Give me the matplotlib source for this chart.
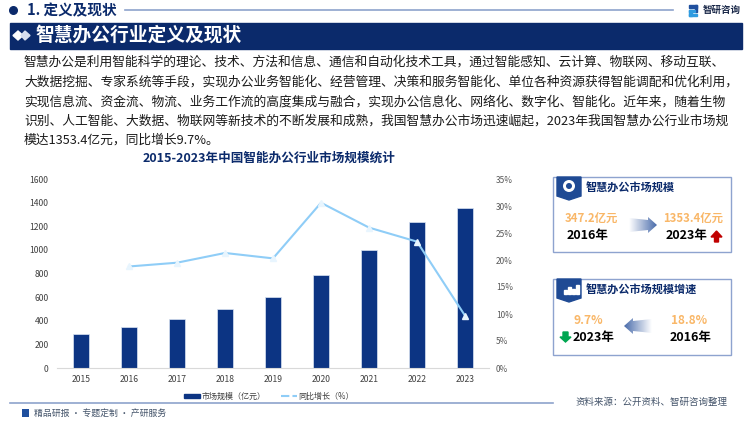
import numpy as np
import matplotlib
matplotlib.use("Agg")
import matplotlib.pyplot as plt
from matplotlib.lines import Line2D
from matplotlib.patches import Patch, Polygon, Rectangle, Circle

plt.rcParams['font.family'] = ['Noto Sans CJK SC', 'DejaVu Sans']

years = ["2015", "2016", "2017", "2018", "2019", "2020", "2021", "2022", "2023"]
market_size = [292, 347, 415, 500, 605, 790, 1000, 1235, 1353.4]
growth = [np.nan, 18.8, 19.5, 21.3, 20.3, 30.6, 26.0, 23.4, 9.7]
left_ticks = [0, 200, 400, 600, 800, 1000, 1200, 1400, 1600]
right_ticks = [0, 5, 10, 15, 20, 25, 30, 35]

body_lines = [
    "智慧办公是利用智能科学的理论、技术、方法和信息、通信和自动化技术工具，通过智能感知、云计算、物联网、移动互联、",
    "大数据挖掘、专家系统等手段，实现办公业务智能化、经营管理、决策和服务智能化、单位各种资源获得智能调配和优化利用，",
    "实现信息流、资金流、物流、业务工作流的高度集成与融合，实现办公信息化、网络化、数字化、智能化。近年来，随着生物",
    "识别、人工智能、大数据、物联网等新技术的不断发展和成熟，我国智慧办公市场迅速崛起，2023年我国智慧办公行业市场规",
    "模达1353.4亿元，同比增长9.7%。",
]
body_y = [62, 82, 102, 121, 140]

NAVY = "#0b2a6b"
BAR = "#0c3483"
LINE = "#8fcdf7"
FRAME = "#8ea3cf"
ORANGE = "#f9b768"

fig = plt.figure(figsize=(7.5, 4.21), dpi=100)

# page overlay in pixel coordinates
bg = fig.add_axes([0, 0, 1, 1])
bg.set_xlim(0, 750)
bg.set_ylim(421, 0)
bg.axis("off")

# header
bg.add_patch(Circle((13.5, 10.5), 3.8, color=NAVY))
bg.text(27, 10.5, "1. 定义及现状", fontsize=10.5, color=NAVY, weight="bold", va="center")
bg.plot([125, 673], [10, 10], color="#8ea3cc", lw=1.2)
bg.add_patch(Rectangle((10, 23), 732, 26, color=NAVY))
bg.add_patch(Polygon([(13, 35.5), (18, 31), (23, 35.5), (18, 40)], color="white"))
bg.add_patch(Polygon([(21, 35.5), (25, 31), (30, 35.5), (25, 40)], color="#d8dfee"))
bg.text(35, 35.5, "智慧办公行业定义及现状", fontsize=13.5, color="white", weight="bold", va="center")

# logo
bg.add_patch(Rectangle((689, 5), 8, 2.5, color="#1f4f9e"))
bg.add_patch(Rectangle((694.5, 5), 2.5, 7, color="#1f4f9e"))
bg.add_patch(Rectangle((689, 10), 6, 2.2, color="#2f9be0"))
bg.add_patch(Rectangle((689, 10), 2.5, 6, color="#2f9be0"))
bg.add_patch(Rectangle((689, 13.5), 8, 2.5, color="#2f9be0"))
bg.text(703, 10, "智研咨询", fontsize=6.8, color="#1c2a4a", weight="bold", va="center")

# body text
for y, line in zip(body_y, body_lines):
    bg.text(24, y, line, fontsize=9.2, color="#1a1a1a", va="center")

bg.text(269, 158, "2015-2023年中国智能办公行业市场规模统计", fontsize=9.05, color=NAVY,
        weight="bold", ha="center", va="center")


def grad_arrow(x0, x1, yc, flip=False):
    # arrow with a fade towards the tail
    xs = [x0, x1 - 9, x1 - 9, x1, x1 - 9, x1 - 9, x0]
    ys = [yc - 7, yc - 5, yc - 8, yc, yc + 8, yc + 5, yc + 7]
    grad = np.linspace(0, 1, 64).reshape(1, -1)
    if flip:
        xs = [x0 + x1 - v for v in xs]
        grad = grad[:, ::-1]
    cmap = matplotlib.colors.LinearSegmentedColormap.from_list("fade", ["#ffffff", "#4a6cab"])
    im = bg.imshow(grad, extent=(x0, x1, yc + 9, yc - 9), cmap=cmap, aspect="auto", zorder=3)
    im.set_clip_path(Polygon(list(zip(xs, ys)), transform=bg.transData))
    bg.set_xlim(0, 750)
    bg.set_ylim(421, 0)


def panel(y0, y1, title):
    bg.add_patch(Rectangle((553, y0), 178, y1 - y0, fc="white", ec=FRAME, lw=1.0))
    bg.add_patch(Polygon([(557, y0), (581, y0), (581, y0 + 19), (569, y0 + 23), (557, y0 + 19)],
                         color="#1f4a94", zorder=3))
    bg.text(586, y0 + 11, title, fontsize=8.0, color=NAVY, weight="bold", va="center")


# scale panel
panel(177, 252, "智慧办公市场规模")
bg.add_patch(Circle((569, 186), 6, fc="white", ec="none", zorder=4))
bg.add_patch(Circle((569, 186), 3, fc="#1f4a94", ec="none", zorder=5))
bg.text(591, 219, "347.2亿元", fontsize=8.2, color=ORANGE, weight="bold", ha="center", va="center")
bg.text(588, 236, "2016年", fontsize=9.0, color="black", weight="bold", ha="center", va="center")
bg.text(693, 219, "1353.4亿元", fontsize=8.2, color=ORANGE, weight="bold", ha="center", va="center")
bg.text(687, 236, "2023年", fontsize=9.0, color="black", weight="bold", ha="center", va="center")
grad_arrow(629, 657, 225)
bg.add_patch(Polygon([(714.5, 242), (714.5, 237), (711, 237), (716.5, 231), (722, 237), (718.5, 237), (718.5, 242)],
                     color="#c00000"))

# growth panel
panel(279, 355, "智慧办公市场规模增速")
for x, h in [(564, 4), (568, 7), (572, 5), (576, 9)]:
    bg.add_patch(Rectangle((x, 294 - h), 2.5, h, color="white", zorder=4))
bg.text(588, 321, "9.7%", fontsize=8.6, color=ORANGE, weight="bold", ha="center", va="center")
bg.text(593.5, 338, "2023年", fontsize=9.0, color="black", weight="bold", ha="center", va="center")
bg.text(689, 321, "18.8%", fontsize=8.6, color=ORANGE, weight="bold", ha="center", va="center")
bg.text(691, 338, "2016年", fontsize=9.0, color="black", weight="bold", ha="center", va="center")
grad_arrow(624, 652, 326, flip=True)
bg.add_patch(Polygon([(563, 332), (568, 332), (568, 337), (571, 337), (565.5, 342), (560, 337), (563, 337)],
                     color="#00a651"))

# footer
bg.plot([10, 553], [403, 403], color="#8ea3cc", lw=1.2)
bg.add_patch(Rectangle((22, 409), 7, 8, fc="#1f4f9e", ec="none"))
bg.text(34, 413.5, "精品研报 · 专题定制 · 产研服务", fontsize=6.4, color="#44546a", va="center")
bg.text(575, 402, "资料来源：公开资料、智研咨询整理", fontsize=6.8, color="#44546a", va="center")

# chart
ax = fig.add_axes([57 / 750, 1 - 368 / 421, 432 / 750, 189 / 421])
x = np.arange(len(years))
ax.bar(x, market_size, width=0.33, color=BAR, edgecolor="#dbe4f3", linewidth=0.5)
ax.set_xlim(-0.5, 8.5)
ax.set_ylim(0, 1600)
ax.set_xticks(x, years)
ax.set_yticks(left_ticks)
ax.tick_params(length=0, labelsize=6.2, labelcolor="#404040", pad=5)
ax.patch.set_alpha(0)
for s in ["top", "right", "left"]:
    ax.spines[s].set_visible(False)
ax.spines["bottom"].set_color("#d9d9d9")
ax.spines["bottom"].set_linewidth(0.8)
ax.tick_params(axis="y", pad=6)

ax2 = ax.twinx()
ax2.plot(x, growth, color=LINE, lw=1.5, marker="^", ms=4.5, mfc="#e8f5fe", mec="#e8f5fe")
ax2.set_ylim(0, 35)
ax2.set_yticks(right_ticks, [f"{v}%" for v in right_ticks])
ax2.tick_params(length=0, labelsize=6.0, labelcolor="#595959", pad=5)
for s in ax2.spines.values():
    s.set_visible(False)

handles = [Patch(color=BAR), Line2D([], [], color=LINE, lw=1.5, ls=(0, (4, 1.5)))]
fig.legend(handles, ["市场规模（亿元）", "同比增长（%）"], loc="center", bbox_to_anchor=(269 / 750, 1 - 396.5 / 421),
           ncol=2, frameon=False, fontsize=5.8, labelcolor="#404040", handlelength=2.0, handleheight=0.5,
           handletextpad=0.1, columnspacing=2.0)

fig.savefig("out.png", dpi=100)
